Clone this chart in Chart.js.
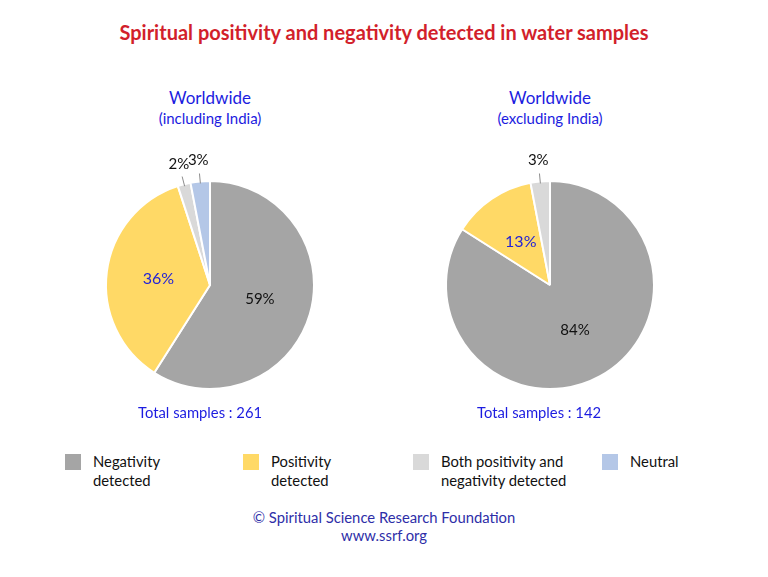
<!DOCTYPE html>
<html>
<head>
<meta charset="utf-8">
<script src="https://cdn.jsdelivr.net/npm/chart.js@4"></script>
<style>
  body { margin: 0; background: #fff; font-family: Lato, "Open Sans", sans-serif; }
  #wrap { position: relative; width: 768px; height: 577px; overflow: hidden; }
  .t { position: absolute; white-space: nowrap; }
  .title { left: 0; width: 768px; top: 20px; text-align: center; color: #d21f2b; font-weight: bold; font-size: 20px; }
  .sub { text-align: center; width: 260px; color: #1c1ce0; }
  .sub .a { font-size: 17px; line-height: 22px; }
  .sub .b { font-size: 15px; line-height: 18px; }
  .total { color: #1c1ce0; font-size: 14.8px; }
  .pie { position: absolute; width: 300px; height: 300px; top: 135px; }
  .leg { position: absolute; top: 452px; font-size: 14.8px; line-height: 19px; color: #111; }
  .leg i { position: absolute; left: 0; top: 2px; width: 16px; height: 16px; }
  .leg span { position: absolute; left: 28px; top: 0; white-space: nowrap; }
  .foot { left: 0; width: 768px; text-align: center; color: #2e2ea8; font-size: 14.8px; line-height: 18px; top: 508px; }
</style>
</head>
<body>
<div id="wrap">
  <div class="t title">Spiritual positivity and negativity detected in water samples</div>

  <div class="t sub" style="left:80px; top:87px;"><div class="a">Worldwide</div><div class="b">(including India)</div></div>
  <div class="t sub" style="left:420px; top:87px;"><div class="a">Worldwide</div><div class="b">(excluding India)</div></div>

  <div class="pie" style="left:60px;"><canvas id="pieLeft"></canvas></div>
  <div class="pie" style="left:400px;"><canvas id="pieRight"></canvas></div>

  <div class="t total" id="totLeft" style="left:138px; top:403px;"></div>
  <div class="t total" id="totRight" style="left:477px; top:403px;"></div>

  <div id="legend"></div>

  <div class="t foot">© Spiritual Science Research Foundation<br>www.ssrf.org</div>
</div>

<script>
// chart data
const categories = ['Negativity detected', 'Positivity detected', 'Both positivity and negativity detected', 'Neutral'];
const legendLines = [['Negativity', 'detected'], ['Positivity', 'detected'], ['Both positivity and', 'negativity detected'], ['Neutral']];
const withIndia = [59, 36, 2, 3];
const withoutIndia = [84, 13, 3, 0];
const totalSamples = [261, 142];

const colors = ['#a5a5a5', '#ffd966', '#d9d9d9', '#b4c7e7'];
const labelColors = ['#111111', '#2323d6', '#111111', '#111111'];

// draws the percentage labels, small slices get an outside label with a leader line
const pctLabels = {
    id: 'pctLabels',
    afterDatasetsDraw(chart) {
        const ctx = chart.ctx;
        const meta = chart.getDatasetMeta(0);
        const values = chart.data.datasets[0].data;
        ctx.save();
        ctx.textAlign = 'center';
        ctx.textBaseline = 'middle';
        meta.data.forEach((arc, i) => {
            const v = values[i];
            if (!v) return;
            const mid = (arc.startAngle + arc.endAngle) / 2;
            const r = arc.outerRadius;
            const cos = Math.cos(mid), sin = Math.sin(mid);
            if (v < 5) {
                ctx.strokeStyle = '#8c8c8c';
                ctx.lineWidth = 1;
                ctx.beginPath();
                ctx.moveTo(arc.x + cos * (r - 2), arc.y + sin * (r - 2));
                ctx.lineTo(arc.x + cos * (r + 8), arc.y + sin * (r + 8));
                ctx.stroke();
                ctx.font = '15px Lato, "Open Sans", sans-serif';
                ctx.fillStyle = '#111111';
                ctx.fillText(v + '%', arc.x + cos * (r + 21), arc.y + sin * (r + 21));
            } else {
                ctx.font = (v < 50 ? '16px' : '15px') + ' Lato, "Open Sans", sans-serif';
                ctx.fillStyle = labelColors[i];
                ctx.fillText(v + '%', arc.x + cos * r * 0.5, arc.y + sin * r * 0.5);
            }
        });
        ctx.restore();
    }
};

function makePie(id, values) {
    new Chart(document.getElementById(id), {
        type: 'pie',
        data: {
            labels: categories,
            datasets: [{
                data: values,
                backgroundColor: colors,
                borderColor: '#ffffff',
                borderWidth: 2
            }]
        },
        options: {
            responsive: true,
            maintainAspectRatio: false,
            animation: false,
            layout: { padding: 45 },
            plugins: {
                legend: { display: false },
                tooltip: { enabled: false }
            }
        },
        plugins: [pctLabels]
    });
}

makePie('pieLeft', withIndia);
makePie('pieRight', withoutIndia);

document.getElementById('totLeft').textContent = 'Total samples : ' + totalSamples[0];
document.getElementById('totRight').textContent = 'Total samples : ' + totalSamples[1];

// legend below the pies
const legendX = [65, 243, 413, 602];
const legend = document.getElementById('legend');
categories.forEach((c, i) => {
    const d = document.createElement('div');
    d.className = 'leg';
    d.style.left = legendX[i] + 'px';
    d.innerHTML = '<i style="background:' + colors[i] + '"></i><span>' + legendLines[i].join('<br>') + '</span>';
    legend.appendChild(d);
});
</script>
</body>
</html>
